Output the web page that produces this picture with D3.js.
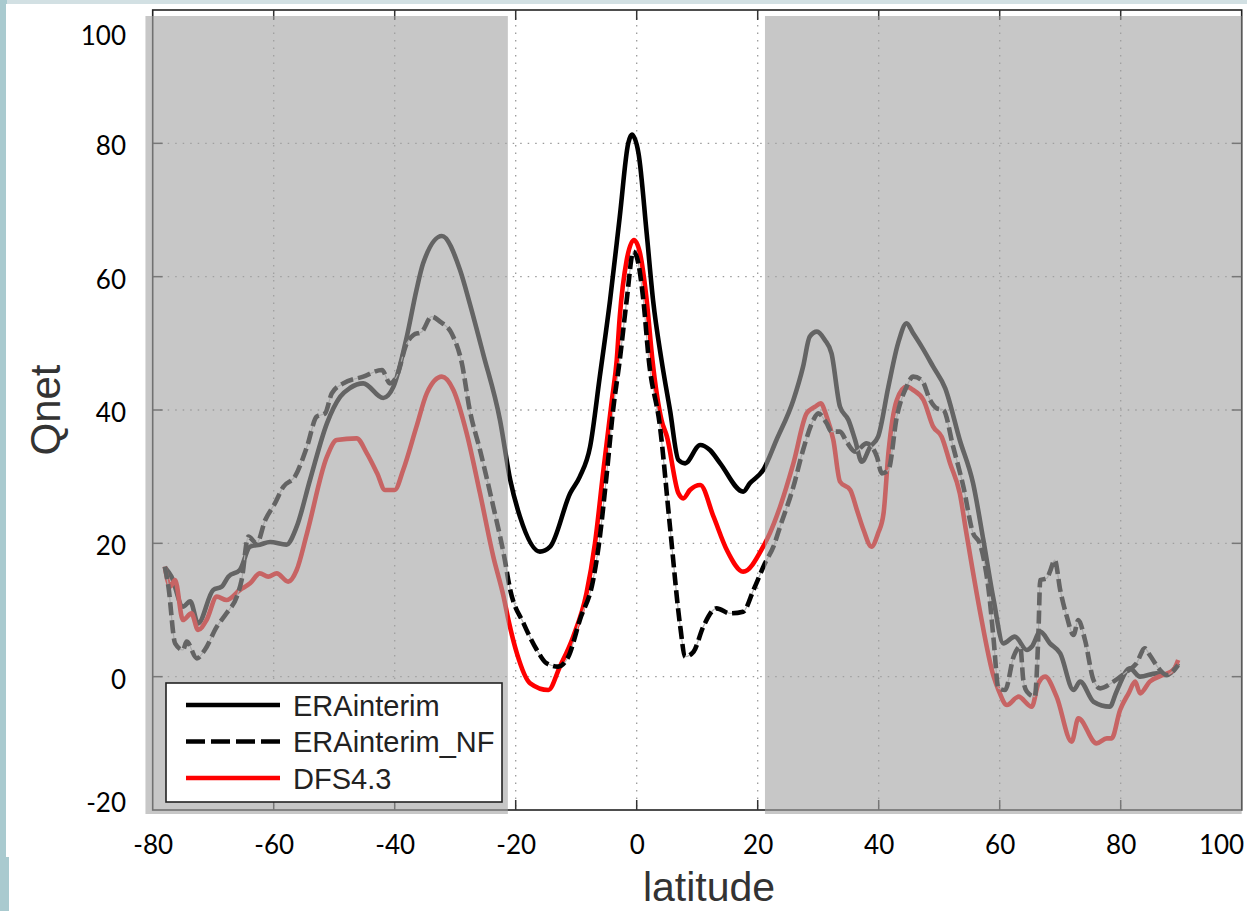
<!DOCTYPE html>
<html>
<head>
<meta charset="utf-8">
<script src="https://cdn.jsdelivr.net/npm/d3@7"></script>
<style>
  html, body { margin: 0; padding: 0; background: #cfdfe2; }
  svg { display: block; }
</style>
</head>
<body>
<svg id="chart" width="1247" height="911"></svg>
<script>
// ---------------- data ----------------
const seriesNames = ["ERAinterim", "ERAinterim_NF", "DFS4.3"];

const eraLat = [-78,-76.9,-75,-73.8,-72.5,-70,-68.6,-67.5,-65.6,-63.9,-62.3,-60.6,-57.9,-56.2,-54,-51.2,-49,-47.4,-45.2,-41.9,-40.2,-38,-36.4,-35.3,-32.2,-29.2,-27.6,-25.4,-22.6,-20.9,-19.3,-16,-14.3,-11,-9.4,-7.7,-6.1,-4.4,-2.8,-1.4,-0.8,0.3,1.65,2.7,4.1,5.5,6.9,8,10.5,12.1,13.8,17.6,18.7,20.9,23.1,25.9,27.5,28.6,29.8,31.1,32.2,33.6,35,36.1,37.2,38.6,39.9,41.6,43.2,44.6,45.7,47.1,49,51,53.4,55.6,57.3,59,60.6,62.5,64.5,65.3,66.7,68.3,70,72.2,73.3,75.5,78.2,79.3,81.5,83.2,85.9,87.6,89.5];
const eraVal = [16.4,15,10.5,11.3,8,13,13.5,15,16,19.5,19.8,20.2,19.8,22.5,29.5,38,42,43.3,44,41.8,43.5,51,58,62,66.1,61,56,48.5,38.5,29.5,24,18.75,19.5,27.5,30,34.5,45,56.5,69,80,81.3,78.5,66.5,56.5,47.5,40,32.5,32,34.75,34,32,27.75,29,31,35.5,41.5,46.5,51,51.75,50.5,48.5,40.5,38.5,35.5,32.25,34.5,36,43.5,50,53,51.5,49.5,46.5,43.25,35.5,29,20.5,11.5,5,6,4,4.5,6.75,5,3.5,-2,-0.75,-3.75,-4.5,-2.25,1.25,0,0.5,0.25,2];

const nfLat = [-78,-77.4,-76.3,-75,-74.4,-72.7,-71.4,-69.4,-67.8,-66.1,-65.3,-64.2,-62.8,-61.4,-59.8,-58.4,-56.5,-54.5,-52.9,-51.5,-50.4,-48.5,-45.2,-42.1,-40.8,-39.7,-38,-36.9,-35.5,-33.9,-32.5,-30.6,-28.9,-27.6,-25.9,-23.7,-22,-20.9,-18.7,-16.5,-14.9,-13,-11.3,-9.4,-7.2,-6.3,-5,-3.9,-2.8,-1.65,-0.55,0,1.1,2,3.85,5.5,7.2,8,9.4,11,13.2,15.4,17.6,19.3,21.2,22.6,23.7,25.9,27.5,29.2,30,31.4,32.2,33.6,34.7,36.1,38,39.7,40.5,41.6,43,44.6,45.7,47.1,48.5,49.6,50.7,52.3,54,55.6,56.7,57.5,58.3,59,59.8,60.9,62.3,63.4,63.9,64.5,65.8,66.4,66.7,67.8,68.3,69.1,70,71.1,72.2,73,74.1,75.5,76.6,78.8,81,82.6,84,84.8,86.5,87.6,89.5];
const nfVal = [16.5,13.5,5,4,5.25,2.75,4,7.5,9.5,12,14.5,21,20,23.5,26,28.5,30,34.5,39,39.5,42.5,44,45,46,44,45,50,51.25,51.75,54,53.25,51.5,47,40,34,25.5,18.5,13,8,4,2,1.5,3,8.5,14.5,19.5,30,40,47.5,56.5,63.75,63,56.5,47.5,37.5,22.5,7.5,3,3.75,7.5,10.25,9.5,9.75,13,17,19.5,22.5,28.5,34,38.5,39.5,38,36.75,36.75,35.25,33.75,35,33,30.5,31,39,43.5,45,44.5,41.5,40.25,40,34.5,28.5,21.5,20,17,12,5.5,-1.75,-2,3,4.5,-0.5,-2.25,-3,6.5,14.5,14.75,15.75,17.5,13,9,6.25,8.5,5.5,-0.5,-1.75,-0.75,0.75,2,4.25,3.25,1,0.25,1.75];

const dfsLat = [-78,-77.1,-76.3,-75,-73.6,-72.5,-71.1,-69.4,-67.8,-65.6,-63.9,-62.3,-60.9,-59.5,-57.6,-56.2,-54.5,-51.2,-49.6,-46.3,-44.6,-42.9,-41.6,-40,-38.6,-36.4,-34.7,-32.2,-30.3,-28.1,-25.9,-23.7,-22,-21.2,-19.8,-17.6,-14.6,-12.7,-10.5,-8.3,-6.9,-5.5,-4.1,-3.3,-2.8,-1.65,-0.45,0.55,1.65,2.6,4.1,5,6.9,7.7,8.8,10.5,12.7,14.9,17.6,20.9,22,23.7,25.9,28.1,29.5,30.4,31.4,32.5,33.6,35.3,36.4,37.5,38.8,39.9,40.8,41.6,43,44.6,45.7,47.4,49,50.4,51.8,53.4,54.5,56.7,59,59.8,61.2,63.1,65.3,66.4,67.5,69.4,71.9,73,76,77.7,78.5,79.9,81.3,82.4,83.2,84.8,87,88.7,89.5];
const dfsVal = [16.5,13.5,14.5,8.5,9.5,7,8.5,12,11.5,13,14,15.5,15,15.5,14.25,16,21.5,33,35.5,35.75,33.5,30.5,28,28,31,37.5,42.5,45,43,36.5,27.5,18,12,8.5,3.5,-1,-2,1.5,6,12.5,20,31,41.5,47.5,54,62.5,65.5,63.5,56.5,47.5,38.5,36,27.5,26.75,28,28.75,24,19,15.75,19.5,21.5,25.5,32,39.5,40.5,41,39,35.5,29.25,28,25,22,19.5,21.5,24.5,33.5,41.5,43.5,43,41.5,37.5,36,32,27.5,21.5,10,0,-2,-4.25,-3,-4.5,-1,0,-3,-9.75,-6.25,-10,-9.25,-9.25,-5,-2.5,-0.75,-2.5,-0.75,0.25,1,2.5];

const xTicks = [-80,-60,-40,-20,0,20,40,60,80,100];
const yTicks = [-20,0,20,40,60,80,100];
const shadedBands = [[-81.2,-21.3],[21.2,100]];

// ---------------- drawing ----------------
const svg = d3.select("#chart");
const W = 1247, H = 911;

// slide background
svg.append("rect").attr("x",0).attr("y",0).attr("width",W).attr("height",H).attr("fill","#d2e0e3");
svg.append("rect").attr("x",0).attr("y",0).attr("width",7).attr("height",H).attr("fill","#a9cacf");
svg.append("rect").attr("x",6).attr("y",4).attr("width",W-6).attr("height",H-4).attr("fill","#ffffff");
svg.append("rect").attr("x",0).attr("y",857).attr("width",9).attr("height",H-857).attr("fill","#a9cacf");

const x = d3.scaleLinear().domain([-80,100]).range([152.7,1241.7]);
const y = d3.scaleLinear().domain([-20,100]).range([810,10]);

// grid
const grid = svg.append("g");
grid.selectAll("line.vg").data(xTicks.filter(d => d > -80 && d < 100)).join("line")
  .attr("x1", d => x(d)).attr("x2", d => x(d))
  .attr("y1", y(100)).attr("y2", y(-20))
  .attr("stroke","#9a9a9a").attr("stroke-width",1.3).attr("stroke-dasharray","1.5,6");
grid.selectAll("line.hg").data(yTicks.filter(d => d > -20 && d < 100)).join("line")
  .attr("x1", x(-80)).attr("x2", x(100))
  .attr("y1", d => y(d)).attr("y2", d => y(d))
  .attr("stroke","#9a9a9a").attr("stroke-width",1.3).attr("stroke-dasharray","1.5,6");

// frame and inner ticks
svg.append("rect")
  .attr("x", x(-80)).attr("y", y(100))
  .attr("width", x(100)-x(-80)).attr("height", y(-20)-y(100))
  .attr("fill","none").attr("stroke","#222").attr("stroke-width",1.6);
const tk = svg.append("g").attr("stroke","#333").attr("stroke-width",1.5);
xTicks.filter(d => d > -80 && d < 100).forEach(d => {
  tk.append("line").attr("x1",x(d)).attr("x2",x(d)).attr("y1",y(100)).attr("y2",y(100)+10);
  tk.append("line").attr("x1",x(d)).attr("x2",x(d)).attr("y1",y(-20)).attr("y2",y(-20)-10);
});
yTicks.filter(d => d > -20 && d < 100).forEach(d => {
  tk.append("line").attr("x1",x(-80)).attr("x2",x(-80)+10).attr("y1",y(d)).attr("y2",y(d));
  tk.append("line").attr("x1",x(100)).attr("x2",x(100)-10).attr("y1",y(d)).attr("y2",y(d));
});

// series
const series = [
  { name: seriesNames[0], lat: eraLat, val: eraVal, color: "#000000", dash: null },
  { name: seriesNames[2], lat: dfsLat, val: dfsVal, color: "#ff0000", dash: null },
  { name: seriesNames[1], lat: nfLat,  val: nfVal,  color: "#000000", dash: "13,5" }
];
const line = d3.line().x(d => x(d[0])).y(d => y(d[1])).curve(d3.curveMonotoneX);
series.forEach(s => {
  const pts = s.lat.map((la, i) => [la, s.val[i]]);
  if (s.dash) {
    svg.append("path").attr("d", line(pts)).attr("fill","none")
      .attr("stroke","#b5b5b5").attr("stroke-width",1.2);
  }
  svg.append("path").attr("d", line(pts))
    .attr("fill","none").attr("stroke", s.color).attr("stroke-width",4.6)
    .attr("stroke-linejoin","round").attr("stroke-linecap","butt")
    .attr("stroke-dasharray", s.dash);
});

// shaded (greyed-out) latitude bands
svg.selectAll("rect.band").data(shadedBands).join("rect")
  .attr("x", d => x(d[0])).attr("width", d => x(d[1]) - x(d[0]))
  .attr("y", 16).attr("height", 814 - 16)
  .attr("fill","rgb(164,164,164)").attr("fill-opacity",0.61);

// axes tick labels
const xAxis = svg.append("g").attr("transform","translate(0,845)")
  .call(d3.axisBottom(x).tickValues(xTicks).tickSize(0).tickPadding(0).tickFormat(d => String(d)));
xAxis.select(".domain").remove();
xAxis.selectAll("text").attr("dy","0.36em")
  .style("font-family","Lato, 'Open Sans', sans-serif").style("font-size","26px").attr("fill","#000")
  .filter(d => d === 100).attr("text-anchor","end").attr("dx", 2);

const yAxis = svg.append("g").attr("transform","translate(126,2)")
  .call(d3.axisLeft(y).tickValues(yTicks).tickSize(0).tickPadding(0).tickFormat(d => String(d)));
yAxis.select(".domain").remove();
yAxis.selectAll("text").attr("dy","0.36em")
  .style("font-family","Lato, 'Open Sans', sans-serif").style("font-size","26px").attr("fill","#000");
yAxis.selectAll("text").filter(d => d === 100).attr("y", 23);
yAxis.selectAll("text").filter(d => d === -20).attr("y", -10);

// axis titles
svg.append("text").attr("x",709).attr("y",901).attr("text-anchor","middle")
  .style("font-family","'Liberation Sans', Arial, sans-serif").style("font-size","41px")
  .attr("fill","#333").text("latitude");
svg.append("text").attr("transform","translate(60,410) rotate(-90)").attr("text-anchor","middle")
  .style("font-family","'Liberation Sans', Arial, sans-serif").style("font-size","42px")
  .attr("fill","#333").text("Qnet");

// legend
const legendItems = [
  { name: seriesNames[0], color: "#000000", dash: null },
  { name: seriesNames[1], color: "#000000", dash: "19,6" },
  { name: seriesNames[2], color: "#ff0000", dash: null }
];
const lg = svg.append("g");
lg.append("rect").attr("x",166).attr("y",683).attr("width",336).attr("height",119)
  .attr("fill","#fff").attr("stroke","#222").attr("stroke-width",1.6);
legendItems.forEach((it, i) => {
  const yy = 705 + i * 36.5;
  lg.append("line").attr("x1",186).attr("x2",280).attr("y1",yy).attr("y2",yy)
    .attr("stroke", it.color).attr("stroke-width",4.6).attr("stroke-dasharray", it.dash);
  lg.append("text").attr("x",293).attr("y",yy + 10.5)
    .style("font-family","'Liberation Sans', Arial, sans-serif").style("font-size","29px")
    .attr("fill","#222").text(it.name);
});
</script>
</body>
</html>
